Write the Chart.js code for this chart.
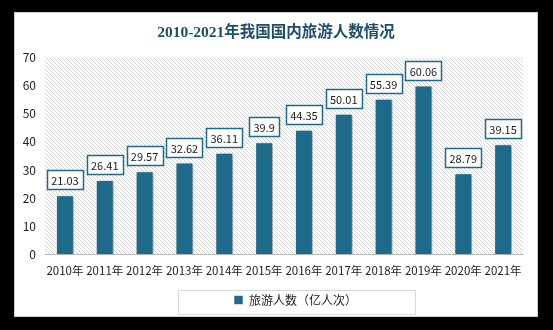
<!DOCTYPE html>
<html>
<head>
<meta charset="utf-8">
<script src="https://cdn.jsdelivr.net/npm/chart.js@4"></script>
<style>
    html, body { margin: 0; padding: 0; background: #000; }
    #wrap { width: 553px; height: 330px; position: relative; }
</style>
</head>
<body>
<div id="wrap"><canvas id="travelChart" width="553" height="330"></canvas></div>
<script>
const YEARS = ['2010年', '2011年', '2012年', '2013年', '2014年', '2015年', '2016年', '2017年', '2018年', '2019年', '2020年', '2021年'];
const TRAVELERS = [21.03, 26.41, 29.57, 32.62, 36.11, 39.9, 44.35, 50.01, 55.39, 60.06, 28.79, 39.15];
const LABELS = ['21.03', '26.41', '29.57', '32.62', '36.11', '39.9', '44.35', '50.01', '55.39', '60.06', '28.79', '39.15'];
const SERIES_NAME = '旅游人数（亿人次）';
const TITLE = '2010-2021年我国国内旅游人数情况';

const BAR_COLOR = '#1d6a8b';
const CJK = '"Noto Sans CJK SC", "Noto Sans", sans-serif';

// diagonal hatch used behind the bars
function makeHatch() {
    const c = document.createElement('canvas');
    c.width = 4; c.height = 4;
    const g = c.getContext('2d');
    g.fillStyle = '#ffffff';
    g.fillRect(0, 0, 4, 4);
    g.strokeStyle = '#d4d4d4';
    g.lineWidth = 1;
    g.beginPath();
    g.moveTo(-1, -1); g.lineTo(5, 5);
    g.moveTo(-1, 3); g.lineTo(1, 5);
    g.moveTo(3, -1); g.lineTo(5, 1);
    g.stroke();
    return c;
}

const panelPlugin = {
    id: 'panel',
    afterLayout(chart) {
        // the card is centred on the page, not on the plot: nudge title and legend
        chart.titleBlock.left += 7.5;
        chart.titleBlock.right += 7.5;
        chart.legend.left += 27;
        chart.legend.right += 27;
    },
    beforeDraw(chart) {
        const ctx = chart.ctx;
        const area = chart.chartArea;
        ctx.save();
        // white card on the black page
        ctx.fillStyle = '#ffffff';
        ctx.fillRect(14, 12, 524, 305);
        ctx.strokeStyle = '#d0d0d0';
        ctx.lineWidth = 1;
        ctx.strokeRect(14.5, 12.5, 523, 304);
        // hatched plot background
        ctx.fillStyle = ctx.createPattern(makeHatch(), 'repeat');
        ctx.fillRect(area.left, area.top, area.right - area.left, area.bottom - area.top);
        ctx.restore();
    },
    beforeDatasetsDraw(chart) {
        const ctx = chart.ctx;
        ctx.save();
        ctx.shadowColor = 'rgba(0, 0, 0, 0.4)';
        ctx.shadowBlur = 4;
        ctx.shadowOffsetX = 2;
        ctx.shadowOffsetY = 1;
    },
    afterDatasetsDraw(chart) {
        const ctx = chart.ctx;
        ctx.restore();
        // value boxes above bars
        const meta = chart.getDatasetMeta(0);
        ctx.save();
        ctx.font = '11px ' + CJK;
        ctx.textAlign = 'center';
        ctx.textBaseline = 'middle';
        meta.data.forEach(function (bar, i) {
            const txt = LABELS[i];
            const w = Math.round(ctx.measureText(txt).width) + 9;
            const h = 19;
            const x = Math.round(bar.x - w / 2) + 0.5;
            const y = Math.round(bar.y - 6 - h) + 0.5;
            ctx.fillStyle = '#ffffff';
            ctx.fillRect(x, y, w, h);
            ctx.strokeStyle = BAR_COLOR;
            ctx.lineWidth = 1.5;
            ctx.strokeRect(x, y, w, h);
            ctx.fillStyle = '#1a1a1a';
            ctx.fillText(txt, bar.x, y + h / 2 + 0.5);
        });
        ctx.restore();
    },
    afterDraw(chart) {
        // frame around the legend
        const lg = chart.legend;
        const cx = (lg.left + lg.right) / 2;
        const cy = (lg.top + lg.bottom) / 2;
        const ctx = chart.ctx;
        ctx.save();
        ctx.strokeStyle = '#d9d9d9';
        ctx.lineWidth = 1;
        ctx.strokeRect(Math.round(cx - 118) + 0.5, Math.round(cy - 12) + 0.5, 237, 24);
        ctx.restore();
    }
};

new Chart(document.getElementById('travelChart'), {
    type: 'bar',
    data: {
        labels: YEARS,
        datasets: [{
            label: SERIES_NAME,
            data: TRAVELERS,
            backgroundColor: BAR_COLOR,
            borderColor: 'rgba(255, 255, 255, 0.55)',
            borderWidth: 1,
            barPercentage: 0.45,
            categoryPercentage: 1
        }]
    },
    options: {
        responsive: false,
        animation: false,
        layout: { padding: { top: 12, left: 14, right: 30, bottom: 14 } },
        plugins: {
            title: {
                display: true,
                text: TITLE,
                color: '#1e4d6b',
                font: { family: '"Liberation Serif", "Noto Sans CJK SC", serif', size: 15.5, weight: 'bold' },
                padding: { top: 12, bottom: 15 }
            },
            legend: {
                position: 'bottom',
                labels: {
                    boxWidth: 9,
                    boxHeight: 9,
                    padding: 6,
                    color: '#222',
                    font: { family: CJK, size: 12 }
                }
            },
            tooltip: { enabled: false }
        },
        scales: {
            x: {
                grid: { display: false, drawTicks: false },
                border: { color: '#b8b8b8' },
                ticks: {
                    color: '#222',
                    maxRotation: 0,
                    autoSkip: false,
                    padding: 10,
                    font: { family: CJK, size: 11.5 }
                }
            },
            y: {
                min: 0,
                max: 70,
                afterFit: function (scale) { scale.width = 31; },
                grid: { display: false, drawTicks: false },
                border: { display: false },
                ticks: {
                    stepSize: 10,
                    color: '#222',
                    padding: 9,
                    font: { family: CJK, size: 12 }
                }
            }
        }
    },
    plugins: [panelPlugin]
});
</script>
</body>
</html>
